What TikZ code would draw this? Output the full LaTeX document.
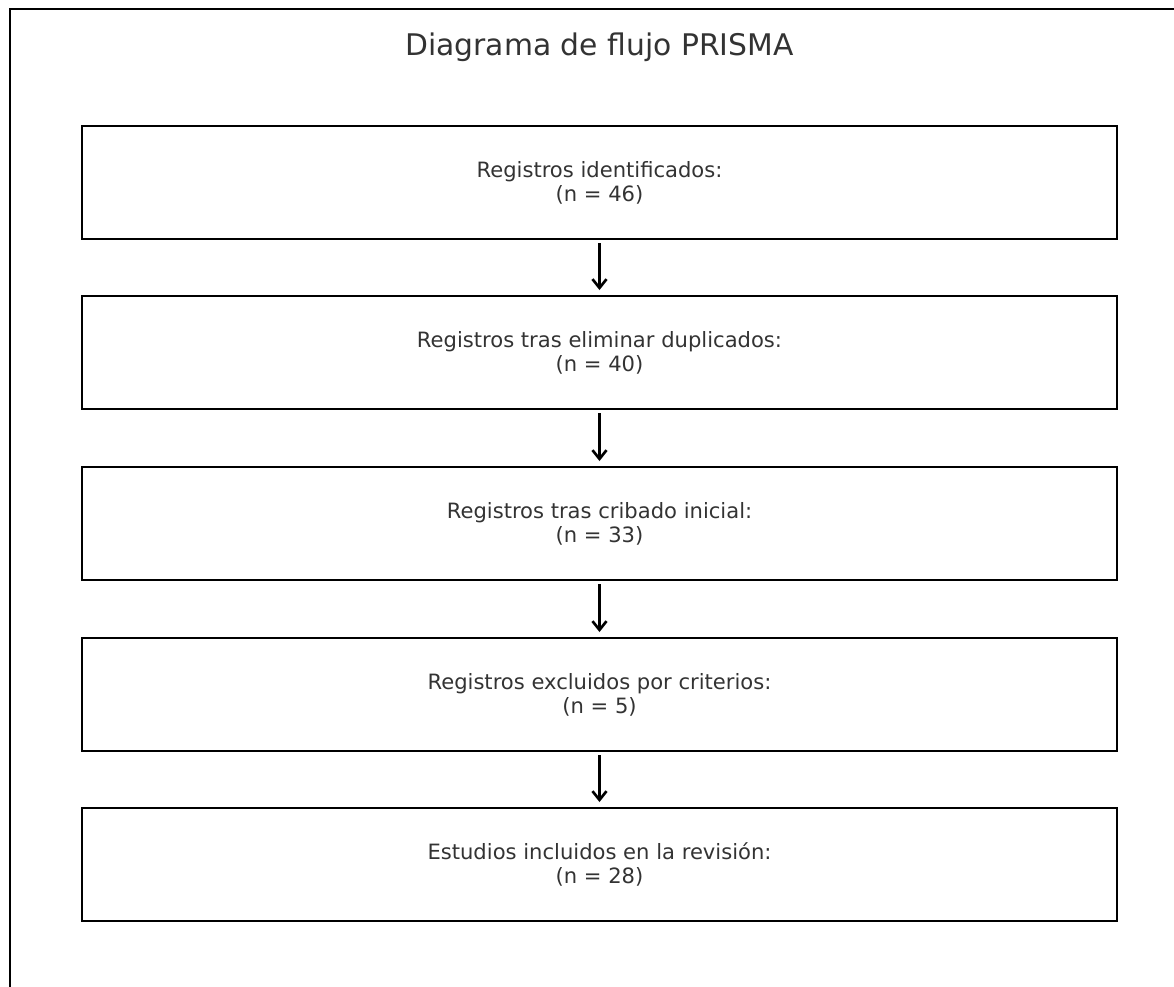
\documentclass[tikz,border=0pt]{standalone}
\usepackage{fontspec}
\setmainfont{DejaVu Sans}
\usetikzlibrary{arrows.meta}
\definecolor{txtgray}{HTML}{333333}
\begin{document}
\begin{tikzpicture}[scale=0.2]
\tikzstyle{every node}+=[inner sep=0pt]
\tikzstyle{stagebox}=[draw=black, line width=1.2pt, minimum width=20.7cm, minimum height=2.26cm, text=txtgray, align=center, font=\fontsize{12}{13.6}\selectfont]
\tikzstyle{flow}=[black, line width=1.5pt, -{Straight Barb[length=5pt,width=8pt]}, shorten <=1.7pt, shorten >=2.8pt]
\useasboundingbox (0,0) rectangle (117.4,-98.6);
\clip (0,0) rectangle (117.4,-98.6);
\draw [black, line width=1.2pt] (1.0,-0.9) rectangle (125,-105);
\draw (59.95,-4.75) node (title) [text=txtgray, font=\fontsize{16.95}{20}\selectfont] {Diagrama de flujo PRISMA};
\draw (59.95,-18.25) node (ident) [stagebox] {Registros identificados:\\(n = 46)};
\draw (59.95,-35.25) node (dupl) [stagebox] {Registros tras eliminar duplicados:\\(n = 40)};
\draw (59.95,-52.35) node (crib) [stagebox] {Registros tras cribado inicial:\\(n = 33)};
\draw (59.95,-69.45) node (excl) [stagebox] {Registros excluidos por criterios:\\(n = 5)};
\draw (59.95,-86.45) node (incl) [stagebox] {Estudios incluidos en la revisión:\\(n = 28)};
\draw [flow] (ident) -- (dupl);
\draw [flow] (dupl) -- (crib);
\draw [flow] (crib) -- (excl);
\draw [flow] (excl) -- (incl);
\end{tikzpicture}
\end{document}
